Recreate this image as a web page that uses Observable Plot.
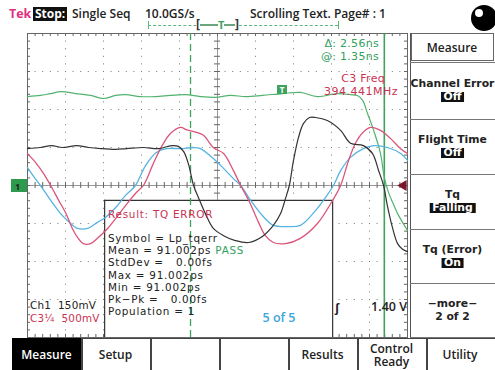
<!DOCTYPE html>
<html><head><meta charset="utf-8">
<script src="https://cdn.jsdelivr.net/npm/d3@7"></script>
<script src="https://cdn.jsdelivr.net/npm/@observablehq/plot@0.6"></script>
<style>
body{margin:0;background:#fff;}
#wrap{position:relative;width:495px;height:370px;overflow:hidden;font-family:"Open Sans",sans-serif;font-weight:600;color:#222;}
#wrap svg{position:absolute;left:0;top:0;}
.t{position:absolute;white-space:pre;line-height:1;transform:translateY(-50%);font-size:12px;}
.r{transform:translate(-100%,-50%);}
.c{transform:translate(-50%,-50%);}
.dv{font-family:"DejaVu Sans",sans-serif;font-weight:normal;font-size:11px;}
.inv{background:#111;color:#fff;padding:0 3px;}
.box{position:absolute;}
.res{position:absolute;white-space:pre;font-family:"DejaVu Sans",sans-serif;font-weight:normal;font-size:10.4px;letter-spacing:0.75px;line-height:12.2px;color:#222;}
</style></head>
<body><div id="wrap"></div>
<script>
// ---- data (time in divisions, 0.5 ns/div; amplitude in divisions from centre) ----
const greenTrace = [[0,2.34],[0.34,2.37],[0.61,2.42],[0.89,2.47],[1.26,2.42],[1.66,2.37],[2.0,2.29],[2.32,2.37],[2.58,2.39],[2.97,2.34],[3.37,2.34],[3.76,2.37],[4.16,2.39],[4.55,2.34],[4.95,2.32],[5.34,2.37],[5.74,2.34],[6.18,2.37],[6.71,2.42],[7.18,2.45],[7.63,2.34],[8.16,2.42],[8.5,2.39],[8.68,2.37],[8.82,2.24],[8.95,1.89],[9.11,1.45],[9.29,0.84],[9.39,0.21],[9.5,-0.18],[9.61,-0.45],[9.74,-0.74],[9.87,-0.97],[10,-1.18]];
const ch1Trace = [[0,0.97],[0.34,1.0],[0.63,1.05],[0.92,1.0],[1.29,1.05],[1.61,1.0],[1.92,0.97],[2.32,0.95],[2.61,0.97],[3.05,1.0],[3.45,0.97],[3.79,1.05],[3.97,1.03],[4.11,0.89],[4.24,0.55],[4.37,0.0],[4.5,-0.32],[4.68,-0.74],[4.89,-1.13],[5.16,-1.32],[5.47,-1.45],[5.82,-1.5],[6.18,-1.34],[6.47,-1.05],[6.66,-0.74],[6.79,-0.34],[6.89,0.0],[7.0,0.66],[7.13,1.26],[7.26,1.63],[7.42,1.79],[7.58,1.79],[7.89,1.71],[8.24,1.45],[8.5,1.11],[8.84,1.05],[9.08,0.84],[9.24,0.39],[9.37,0.0],[9.47,-0.53],[9.61,-1.13],[9.74,-1.53],[9.87,-1.68],[10,-1.74]];
const c3Trace = [[0,0.84],[0.21,0.61],[0.42,0.32],[0.61,0.0],[0.82,-0.39],[1.0,-0.71],[1.18,-1.13],[1.32,-1.37],[1.47,-1.53],[1.66,-1.53],[1.84,-1.39],[2.11,-1.13],[2.32,-0.87],[2.58,-0.53],[2.84,-0.21],[3.05,0.0],[3.29,0.53],[3.5,0.97],[3.76,1.37],[4.03,1.53],[4.18,1.47],[4.37,1.42],[4.63,1.32],[4.89,1.0],[5.16,0.84],[5.42,0.39],[5.61,0.0],[5.82,-0.39],[6.08,-0.97],[6.26,-1.32],[6.47,-1.5],[6.79,-1.53],[7.18,-1.39],[7.63,-1.0],[8.03,-0.39],[8.24,0.0],[8.45,0.66],[8.63,1.11],[8.82,1.39],[9.03,1.53],[9.29,1.45],[9.55,1.24],[9.82,0.97],[10,0.84]];
const blueTrace = [[0,0.47],[0.16,0.24],[0.34,0.0],[0.61,-0.39],[0.87,-0.74],[1.05,-0.92],[1.32,-1.13],[1.58,-1.13],[1.84,-0.97],[2.05,-0.84],[2.32,-0.58],[2.58,-0.26],[2.84,0.0],[3.11,0.53],[3.39,0.87],[3.66,0.97],[4.03,0.97],[4.37,1.0],[4.55,0.97],[4.89,0.71],[5.16,0.45],[5.42,0.18],[5.61,0.0],[5.87,-0.39],[6.18,-0.79],[6.47,-1.05],[6.79,-1.08],[7.18,-1.05],[7.58,-0.66],[7.84,-0.32],[8.05,0.0],[8.24,0.39],[8.5,0.74],[8.84,0.97],[9.11,1.05],[9.47,1.0],[9.82,0.84],[10,0.66]];
const cursors = [4.29, 9.39];          // divisions (Δ = 2.56 ns)
const triggerLevel = [0];
const resultBox = {x1: 2.03, x2: 8.03, top: -0.39};
const headerItems = ["Single Seq", "10.0GS/s", "Scrolling Text. Page# : 1"];
const readouts = ["Δ: 2.56ns", "@: 1.35ns"];
const freqLabels = ["C3 Freq", "394.441MHz"];
const channelLabels = ["Ch1  150mV", "C3¼  500mV"];
const resultLines = ["Symbol = Lp_tqerr", "Mean = 91.002ps", "StdDev =   0.00fs", "Max = 91.002ps", "Min = 91.002ps", "Pk−Pk =   0.00fs", "Population = 1"];
const rightMenu = [["Measure", null], ["Channel Error", "Off"], ["Flight Time", "Off"], ["Tq", "Falling"], ["Tq (Error)", "On"], ["−more−", "2 of 2"]];
const bottomMenu = ["Measure", "Setup", "", "", "Results", "Control\nReady", "Utility"];

// ---- plot ----
const xMajor = [1,2,3,4,6,7,8,9], yMajor = [-3,-2,-1,1,2,3];
const xMinor = d3.range(0, 10.001, 0.2), yMinor = d3.range(-4, 4.001, 0.2);
const tk = 0.08;
const plot = Plot.plot({
  width: 495, height: 370,
  marginLeft: 27, marginRight: 88, marginTop: 33, marginBottom: 33,
  x: {domain: [0, 10], axis: null},
  y: {domain: [-4, 4], axis: null},
  style: {background: "transparent"},
  marks: [
    Plot.ruleX(xMajor, {stroke: "#777", strokeDasharray: "1,6.6"}),
    Plot.ruleY(yMajor, {stroke: "#777", strokeDasharray: "1,6.6"}),
    Plot.ruleY([0], {stroke: "#999"}),
    Plot.ruleX([5], {stroke: "#999"}),
    Plot.ruleX(xMinor, {x: d => d, y1: -tk, y2: tk, stroke: "#666"}),
    Plot.ruleX(xMinor, {x: d => d, y1: 4, y2: 4 - tk, stroke: "#666"}),
    Plot.ruleX(xMinor, {x: d => d, y1: -4, y2: -4 + tk, stroke: "#666"}),
    Plot.ruleY(yMinor, {y: d => d, x1: 5 - tk, x2: 5 + tk, stroke: "#666"}),
    Plot.ruleY(yMinor, {y: d => d, x1: 0, x2: tk, stroke: "#666"}),
    Plot.ruleY(yMinor, {y: d => d, x1: 10 - tk, x2: 10, stroke: "#666"}),
    Plot.frame({stroke: "#666"}),
    Plot.rect([resultBox], {x1: "x1", x2: "x2", y1: -4, y2: "top", fill: "white"}),
    Plot.ruleX([resultBox.x1, resultBox.x2], {y1: -4, y2: resultBox.top, stroke: "#333", strokeWidth: 1.2}),
    Plot.ruleY([resultBox.top], {x1: resultBox.x1, x2: resultBox.x2, stroke: "#333", strokeWidth: 1.2}),
    Plot.ruleX([cursors[0]], {stroke: "#3da35f", strokeWidth: 1.3, strokeDasharray: "7,4"}),
    Plot.ruleX([cursors[1]], {stroke: "#3da35f", strokeWidth: 1.6}),
    Plot.line(greenTrace, {x: d => d[0], y: d => d[1], stroke: "#52b36f", strokeWidth: 1.2, curve: "catmull-rom"}),
    Plot.line(blueTrace, {x: d => d[0], y: d => d[1], stroke: "#56b3e2", strokeWidth: 1.3, curve: "catmull-rom"}),
    Plot.line(c3Trace, {x: d => d[0], y: d => d[1], stroke: "#d9567a", strokeWidth: 1.3, curve: "catmull-rom"}),
    Plot.line(ch1Trace, {x: d => d[0], y: d => d[1], stroke: "#333", strokeWidth: 1.2, curve: "catmull-rom"}),
    Plot.dot(triggerLevel, {x: () => 10, y: d => d, symbol: "triangle", rotate: -90, r: 4, dx: -4, fill: "#7a1628", stroke: "none"})
  ]
});
const wrap = document.getElementById("wrap");
wrap.appendChild(plot);

function T(text, x, y, cls, style) {
  const d = document.createElement("div");
  d.className = "t " + (cls || "");
  d.textContent = text;
  d.style.left = x + "px"; d.style.top = y + "px";
  if (style) Object.assign(d.style, style);
  wrap.appendChild(d); return d;
}
function B(x, y, w, h, style) {
  const d = document.createElement("div");
  d.className = "box";
  Object.assign(d.style, {left: x + "px", top: y + "px", width: w + "px", height: h + "px"}, style || {});
  wrap.appendChild(d); return d;
}

// header
T("Tek", 9, 14, "", {color: "#e0307f", fontWeight: 700, fontSize: "12.5px"});
T("Stop:", 33, 14, "inv", {fontWeight: 700, padding: "1px 2px"});
T(headerItems[0], 72, 14);
T(headerItems[1], 145, 14);
T(headerItems[2], 250, 14);
// circle icon
B(471, 5, 26, 26, {background: "#000", borderRadius: "50%"});
B(475, 9, 8, 8, {background: "#fff", borderRadius: "50%"});
// record view
B(148, 25, 190, 0, {borderTop: "1px dashed #5db57c"});
B(148, 21, 0, 8, {borderLeft: "1px solid #5db57c"});
B(338, 21, 0, 8, {borderLeft: "1px solid #5db57c"});
B(200, 24, 36, 2, {background: "#6aa57f"});
T("[", 196, 24, "", {fontSize: "12px", fontWeight: 700, background: "#fff", color: "#333"});
T("T", 218, 24, "", {fontSize: "11px", fontWeight: 700, background: "#fff", color: "#3da35f"});
T("]", 235, 24, "", {fontSize: "12px", fontWeight: 700, background: "#fff", color: "#333"});

// readouts
T(readouts[0], 379, 43, "r dv", {color: "#32a05e", letterSpacing: "0.3px"});
T(readouts[1], 379, 56, "r dv", {color: "#32a05e", letterSpacing: "0.3px"});
T(freqLabels[0], 385, 78, "r dv", {color: "#c93352", letterSpacing: "0.3px"});
T(freqLabels[1], 398, 91, "r dv", {color: "#c93352", letterSpacing: "0.5px"});
// trace marker
B(277, 85, 10, 9, {background: "#3da35f"});
T("T", 282, 89.5, "c", {color: "#fff", fontSize: "8px", fontWeight: 700});
// ground marker
B(11, 179, 16, 13, {background: "#2e9a4d"});
T("1", 15, 185.5, "", {color: "#222", fontSize: "9px", fontWeight: 700});

// result box text
const title = document.createElement("div");
title.className = "res"; title.textContent = "Result: TQ ERROR";
Object.assign(title.style, {left: "108px", top: "208px", color: "#c93352"});
wrap.appendChild(title);
const res = document.createElement("div");
res.className = "res";
Object.assign(res.style, {left: "108px", top: "232px"});
resultLines.forEach((s, i) => {
  const line = document.createElement("div");
  line.textContent = s;
  if (i === 1) {
    const p = document.createElement("span");
    p.textContent = " PASS"; p.style.color = "#32a05e";
    line.appendChild(p);
  }
  res.appendChild(line);
});
wrap.appendChild(res);
[[channelLabels[0], "#222", 299], [channelLabels[1], "#c93352", 312]].forEach(([s, c, y]) => {
  const d = document.createElement("div");
  d.className = "res"; d.textContent = s;
  Object.assign(d.style, {left: "30px", top: y + "px", color: c, fontSize: "10.4px", letterSpacing: "0.2px"});
  wrap.appendChild(d);
});
T("5 of 5", 279, 318, "c", {color: "#3da6d8", fontSize: "12.5px"});
T("ʃ", 337, 307, "c", {fontSize: "13px", fontWeight: 700});
T("1.40 V", 407, 307, "r", {fontSize: "12.5px"});

// right menu
const rTops = [33, 62, 119, 174, 229, 283, 337];
B(410, 33, 0, 304, {borderLeft: "1.5px solid #555"});
rightMenu.forEach(([lab, st], i) => {
  const y0 = rTops[i], y1 = rTops[i + 1], cy = (y0 + y1) / 2;
  B(410, y1, 85, 0, {borderTop: "1px solid #777"});
  if (i === 0) {
    B(411, y0, 83, y1 - y0 - 1, {border: "1px solid #666", boxSizing: "border-box"});
    T(lab, 452, cy, "c", {fontSize: "12px"});
  } else {
    T(lab, 452.5, cy - 6.5, "c dv", {fontSize: "10.8px", fontWeight: 600});
    T(st, 452.5, cy + 6.5, "c dv " + (i === 5 ? "" : "inv"), {fontSize: "10.8px", fontWeight: 600, lineHeight: "10px"});
  }
});

// bottom menu
B(12, 338, 483, 0, {borderTop: "1px solid #444"});
bottomMenu.forEach((lab, i) => {
  const x0 = 12 + i * 69, w = i === 6 ? 68 : 69;
  if (i === 0) B(x0, 338, w, 32, {background: "#000"});
  else B(x0, 338, 0, 32, {borderLeft: "2px solid #444"});
  T(lab, x0 + w / 2, 355, "c", {fontSize: "12px", textAlign: "center", lineHeight: "12.5px", color: i === 0 ? "#fff" : "#222"});
});
</script></body></html>
